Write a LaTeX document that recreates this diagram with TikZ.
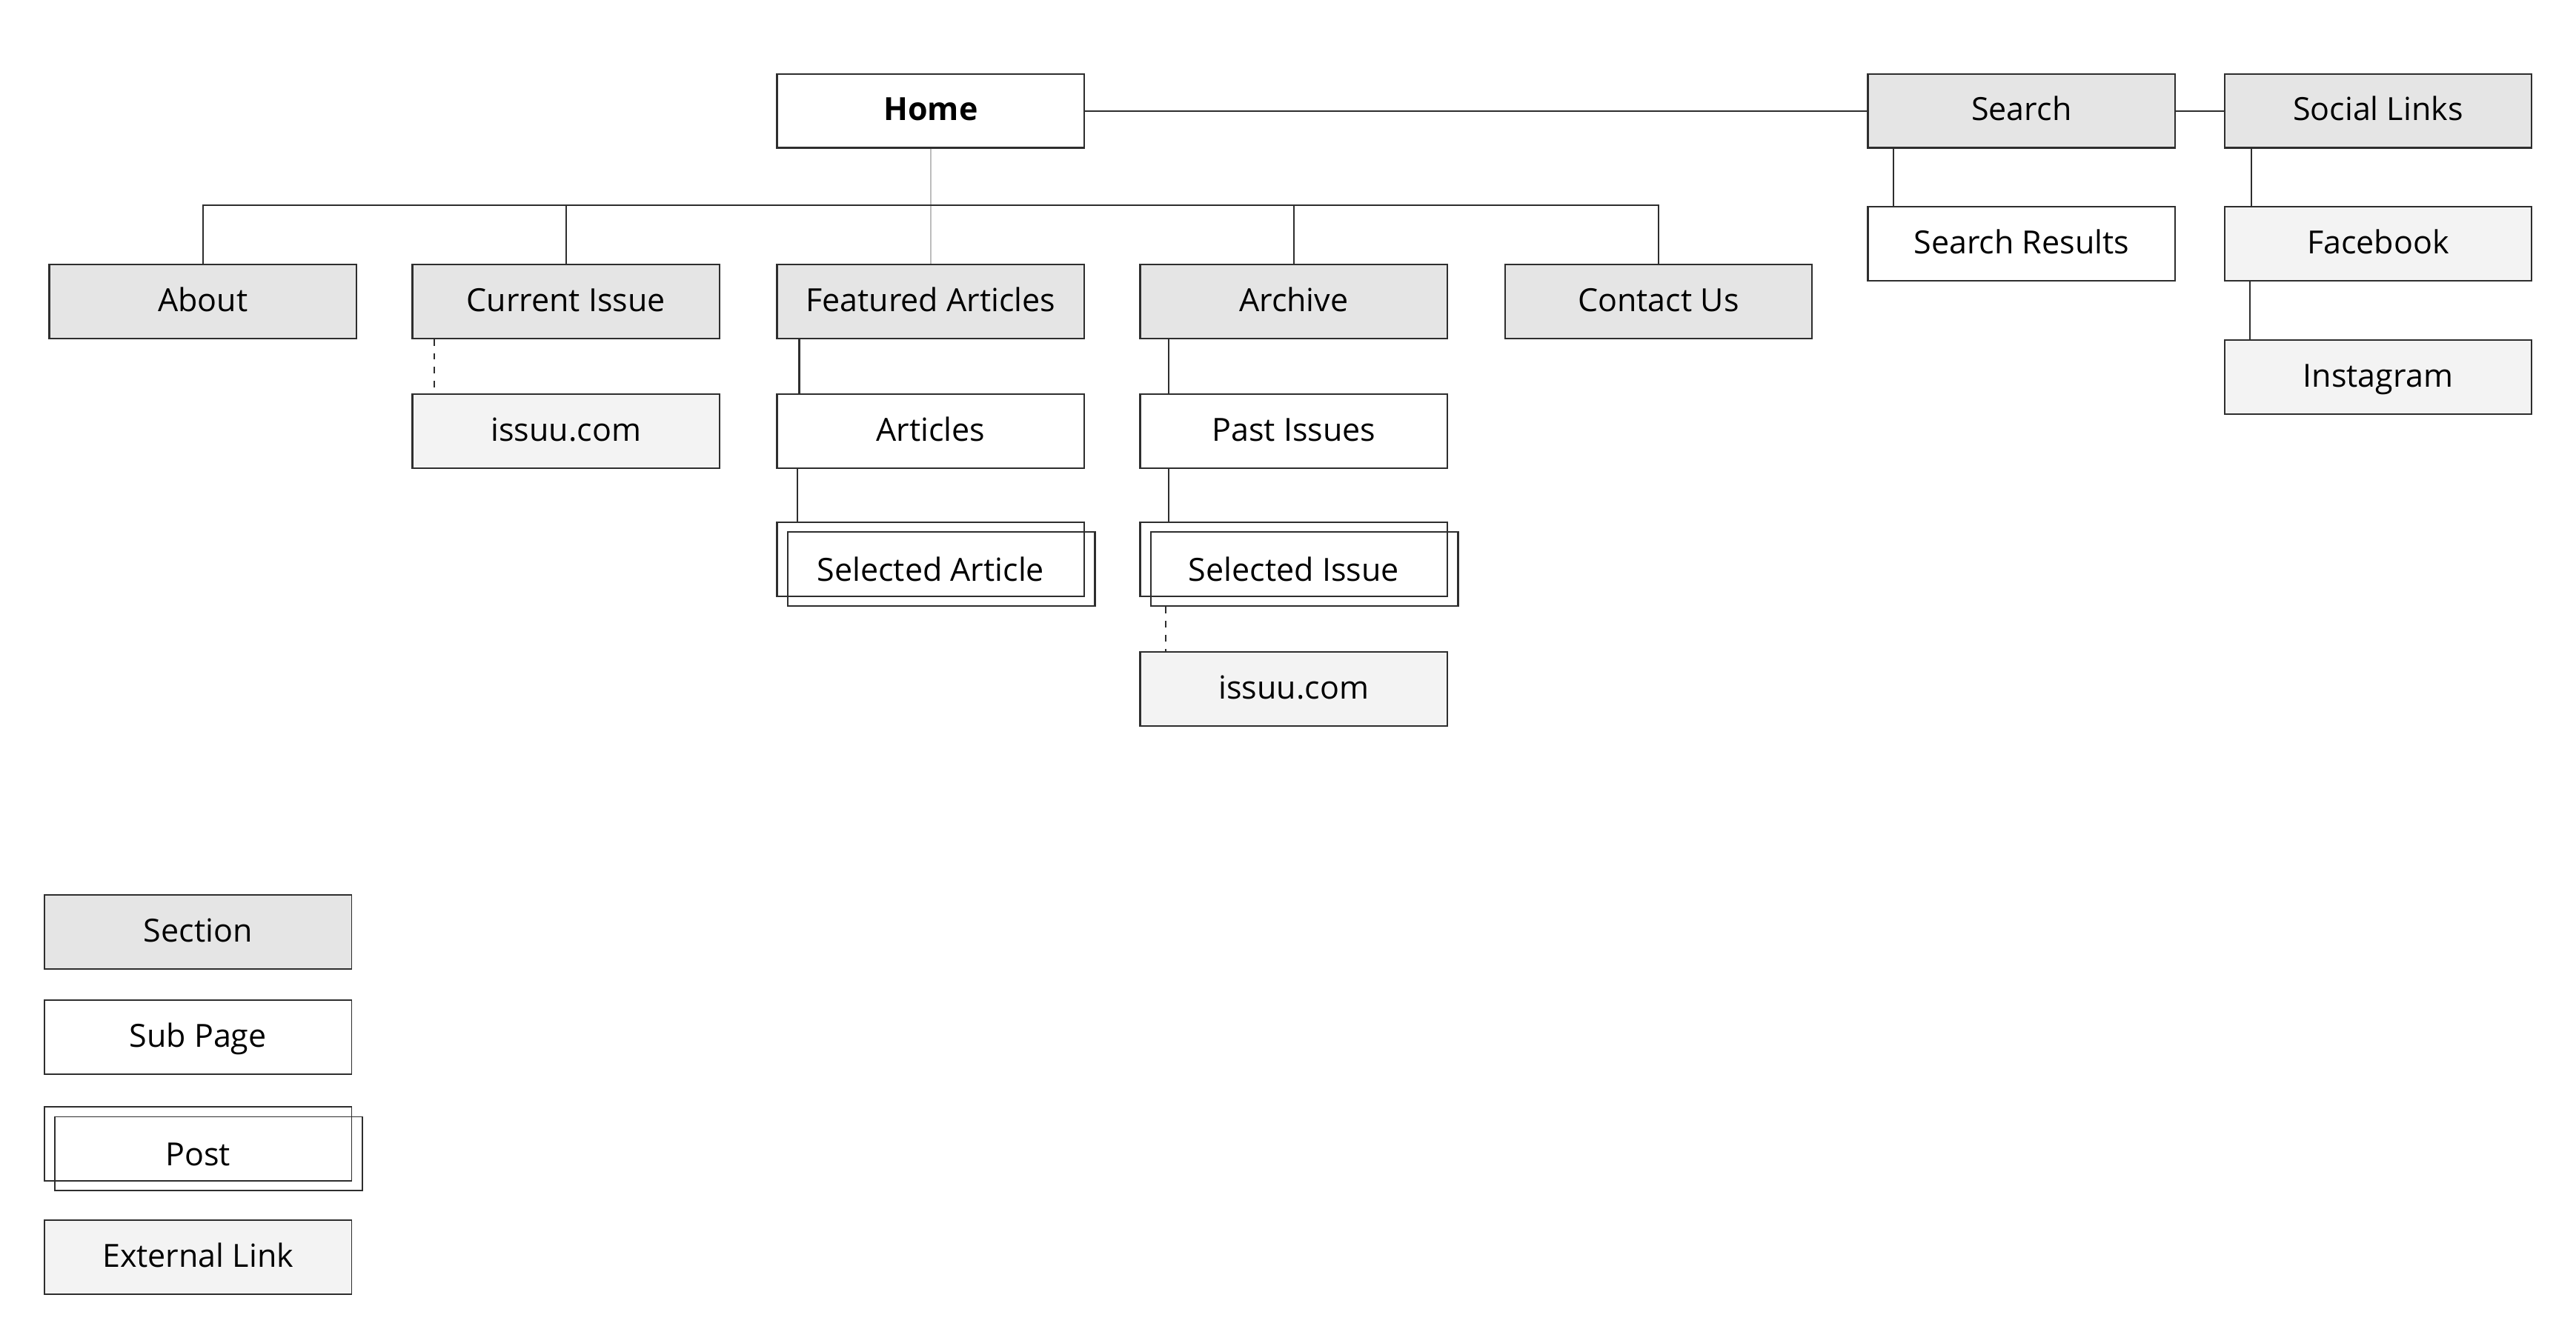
\documentclass[tikz,border=0pt]{standalone}
\usepackage{fontspec}
\setmainfont{Open Sans}
\usetikzlibrary{shadows}

\definecolor{sectfill}{HTML}{E5E5E5}
\definecolor{extfill}{HTML}{F3F3F3}
\definecolor{edgegray}{HTML}{2E2E2E}
\definecolor{stemgray}{HTML}{BDBDBD}

\tikzset{every picture/.style={line width=1pt}}
\tikzset{
	page/.style={draw=edgegray, minimum width=187pt, minimum height=45pt, inner sep=0pt,
		text height=16pt, text depth=4pt, font=\fontsize{19.4}{23}\selectfont},
	sectbox/.style={page, fill=sectfill},
	subbox/.style={page, fill=white},
	extbox/.style={page, fill=extfill},
	postbox/.style={page, text height=31pt,
		copy shadow={shadow xshift=6.5pt, shadow yshift=-6pt, draw=edgegray, fill=none}},
	keybox/.style={line width=0.7pt},
	link/.style={draw=edgegray},
	extlink/.style={draw=edgegray, dash pattern=on 4pt off 4.5pt}}

\begin{document}
\begin{tikzpicture}[x=1pt,y=1pt,yscale=-1,xscale=1]
	\useasboundingbox (0,0) rectangle (1568,811);

	% Top level
	\node [subbox, font=\fontsize{19.4}{23}\selectfont\bfseries] (home) at (566.5,67.5) {Home};
	\node [sectbox] (search) at (1230.5,67.5) {Search};
	\node [sectbox] (social) at (1447.5,67.5) {Social Links};

	% Sections
	\node [sectbox] (about) at (123.5,183.5) {About};
	\node [sectbox] (current) at (344.5,183.5) {Current Issue};
	\node [sectbox] (featured) at (566.5,183.5) {Featured Articles};
	\node [sectbox] (archive) at (787.5,183.5) {Archive};
	\node [sectbox] (contact) at (1009.5,183.5) {Contact Us};

	% Sub pages
	\node [subbox] (results) at (1230.5,148.5) {Search Results};
	\node [extbox] (facebook) at (1447.5,148.5) {Facebook};
	\node [extbox] (instagram) at (1447.5,229.5) {Instagram};
	\node [extbox] (issuucur) at (344.5,262.5) {issuu.com};
	\node [subbox] (articles) at (566.5,262.5) {Articles};
	\node [subbox] (pastissues) at (787.5,262.5) {Past Issues};
	\node [postbox] (selarticle) at (566.5,340.5) {Selected Article};
	\node [postbox] (selissue) at (787.5,340.5) {Selected Issue};
	\node [extbox] (issuupast) at (787.5,419.5) {issuu.com};

	% Connectors
	\coordinate (bus) at (566.5,125);
	\draw [stemgray] (home.south) -- (featured.north);
	\draw [link] (about.north) |- (bus) -| (contact.north);
	\draw [link] (current.north) -- (current.north |- bus);
	\draw [link] (archive.north) -- (archive.north |- bus);
	\draw [link] (home.east) -- (search.west);
	\draw [link] (search.east) -- (social.west);
	\draw [link] ([xshift=16pt]search.south west) -- ([xshift=16pt]results.north west);
	\draw [link] ([xshift=17pt]social.south west) -- ([xshift=17pt]facebook.north west);
	\draw [link] ([xshift=16pt]facebook.south west) -- ([xshift=16pt]instagram.north west);
	\draw [extlink] ([xshift=14pt]current.south west) -- ([xshift=14pt]issuucur.north west);
	\draw [link] ([xshift=14pt]featured.south west) -- ([xshift=14pt]articles.north west);
	\draw [link] ([xshift=13pt]articles.south west) -- ([xshift=13pt]selarticle.north west);
	\draw [link] ([xshift=18pt]archive.south west) -- ([xshift=18pt]pastissues.north west);
	\draw [link] ([xshift=18pt]pastissues.south west) -- ([xshift=18pt]selissue.north west);
	\draw [extlink] ([xshift=16pt,yshift=6pt]selissue.south west) -- ([xshift=16pt]issuupast.north west);

	% Key
	\node [sectbox, keybox] (keysect) at (120.5,567.5) {Section};
	\node [subbox, keybox] (keysub) at (120.5,631.5) {Sub Page};
	\node [postbox, keybox] (keypost) at (120.5,696.5) {Post};
	\node [extbox, keybox] (keyext) at (120.5,765.5) {External Link};

\end{tikzpicture}
\end{document}
